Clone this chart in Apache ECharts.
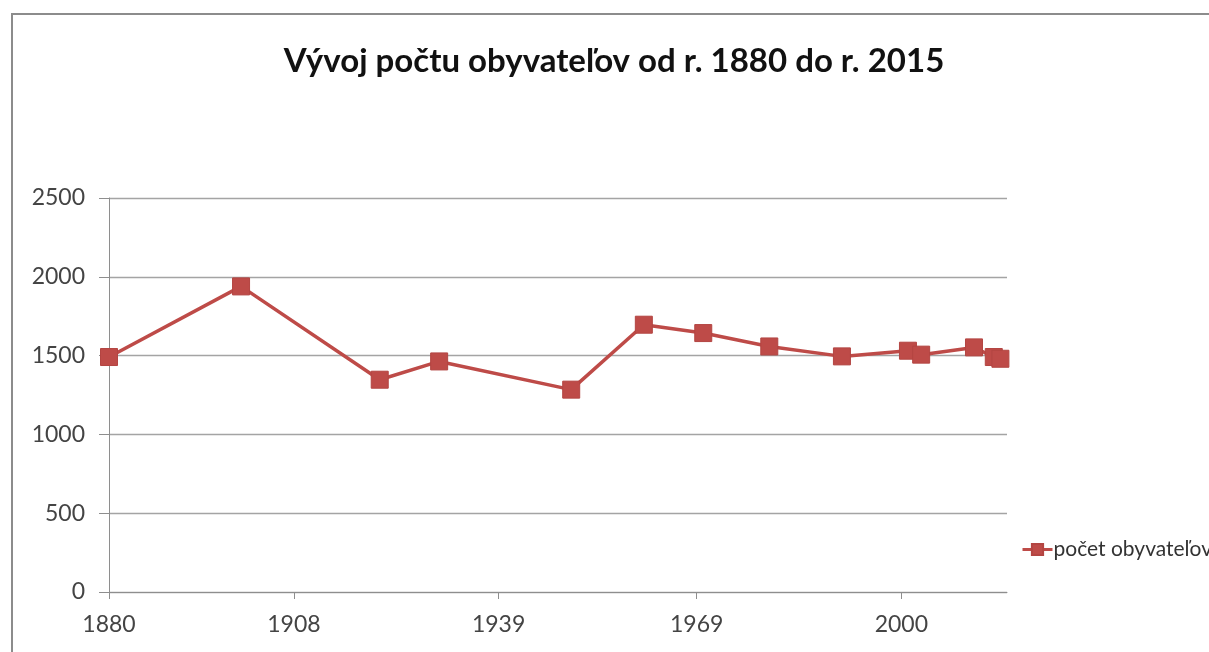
<!DOCTYPE html>
<html>
<head>
<meta charset="utf-8">
<script src="https://cdn.jsdelivr.net/npm/echarts@6/dist/echarts.min.js"></script>
<style>
html,body{margin:0;padding:0;background:#fff;}
#c{width:1209px;height:652px;}
</style>
</head>
<body>
<div id="c"></div>
<script>
var titleText = 'Vývoj počtu obyvateľov od r. 1880 do r. 2015';
var seriesName = 'počet obyvateľov';
var years = [1880, 1900, 1921, 1930, 1950, 1961, 1970, 1980, 1991, 2001, 2003, 2011, 2014, 2015];
var population = [1491, 1939, 1347, 1463, 1284, 1696, 1643, 1558, 1495, 1531, 1506, 1552, 1491, 1480];
var xTickYears = [1880, 1908, 1939, 1969, 2000];
var yTicks = [0, 500, 1000, 1500, 2000, 2500];

var chart = echarts.init(document.getElementById('c'));
var font = 'Lato';
var red = '#BE4B48';
chart.setOption({
  backgroundColor: '#fff',
  animation: false,
  title: {
    text: titleText,
    left: 609, top: 40, textAlign: 'center',
    textStyle: {fontFamily: font, fontWeight: 'bold', fontSize: 33, color: '#111'}
  },
  graphic: [{
    type: 'rect', z: -1, silent: true,
    shape: {x: 12, y: 14, width: 1400, height: 800},
    style: {fill: 'none', stroke: '#8c8c8c', lineWidth: 2}
  }],
  legend: {
    left: 1016, top: 534,
    itemWidth: 30, itemHeight: 14, itemGap: 4,
    data: [seriesName],
    lineStyle: {width: 3},
    textStyle: {fontFamily: font, fontSize: 21, color: '#333', padding: [0, 0, 0, -4]}
  },
  grid: {left: 109, top: 198, right: 202, bottom: 60, containLabel: false},
  xAxis: {
    type: 'value', min: 1880, max: 2016,
    axisLine: {show: true, lineStyle: {color: '#8e8e8e', width: 1}},
    axisTick: {show: true, length: 7, customValues: xTickYears, lineStyle: {color: '#8e8e8e'}},
    axisLabel: {customValues: xTickYears, fontFamily: font, fontSize: 23, color: '#444', margin: 21,
      formatter: function (v) { return String(v); }},
    splitLine: {show: false}
  },
  yAxis: {
    type: 'value', min: yTicks[0], max: yTicks[yTicks.length - 1], interval: 500,
    axisLine: {show: true, lineStyle: {color: '#8e8e8e', width: 1}},
    axisTick: {show: true, length: 10, lineStyle: {color: '#8e8e8e'}},
    axisLabel: {fontFamily: font, fontSize: 23, color: '#444', margin: 24,
      formatter: function (v) { return String(v); }},
    splitLine: {show: true, lineStyle: {color: '#a4a4a4', width: 1.4}}
  },
  series: [{
    name: seriesName,
    type: 'line',
    data: years.map(function (y, i) { return [y, population[i]]; }),
    symbol: 'rect', symbolSize: 17,
    lineStyle: {color: red, width: 3.5},
    itemStyle: {color: red, borderColor: '#b34542', borderWidth: 1}
  }]
});
</script>
</body>
</html>
